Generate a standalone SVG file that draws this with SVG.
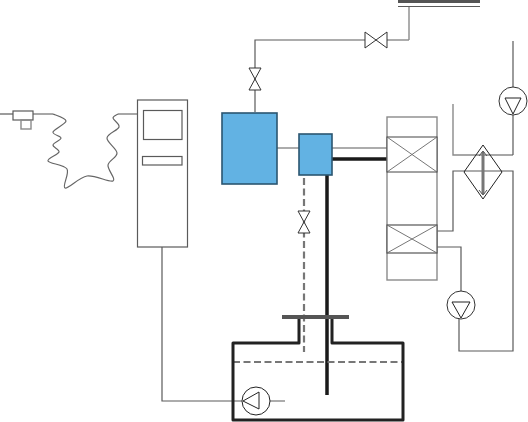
<svg xmlns="http://www.w3.org/2000/svg" width="528" height="422" viewBox="0 0 528 422">
<style>
.l{fill:none;stroke:#5a5a5a;stroke-width:1.2}
.g{fill:none;stroke:#8a8a8a;stroke-width:1.4}
.k{fill:none;stroke:#222;stroke-width:1}
.t{fill:none;stroke:#1a1a1a;stroke-width:3.500}
.d{fill:none;stroke:#777;stroke-width:2.200;stroke-dasharray:7 3.500}
.b{fill:#62b2e3;stroke:#2b5570;stroke-width:1.600}
.w{fill:#fff;stroke:#333;stroke-width:1}
.s{fill:none;stroke:#666;stroke-width:1.200}
</style>
<g id="connectors">
<path class="l" d="M255 112V40H365M387 40H409"/>
<path class="g" d="M409 40V6"/>
<path class="l" d="M277 148H299M332 148H387"/>
<path class="t" d="M332 159H387M327 175V395"/>
<path class="d" d="M304 178V352M233 362H403"/>
<path class="g" d="M453 104V155H513"/>
<path class="l" d="M513 155V115M513 87V41"/>
<path class="l" d="M437 231H453V171H513V351H459V319M461 291V247H437"/>
<path class="l" d="M162 247V401H242M270 401H285"/>
<path class="l" d="M0 114H13"/>
<path class="g" d="M33 114H53M118 114H137"/>
<path class="s" d="M53 114C55 115 66 118 66 121C66 124 53.800 129.200 53 132C52.200 134.800 61 135.800 61 138C61 140.200 53.300 142.700 53 145C52.700 147.300 59.800 149.300 59 152C58.200 154.700 46.700 158.200 48 161C49.300 163.800 64.200 164.500 67 169C69.800 173.500 61.700 186.800 65 188C68.300 189.200 79 177.200 87 176C95 174.800 109.500 182.800 113 181C116.500 179.200 107.300 169.700 108 165C108.700 160.300 117.200 157.500 117 153C116.800 148.500 106.700 142.300 107 138C107.300 133.700 118 130.300 119 127C120 123.700 113.200 120.200 113 118C112.800 115.800 117.200 114.700 118 114"/>
</g>
<g id="supply-header">
<path d="M398 1.500H480" fill="none" stroke="#555" stroke-width="3"/>
<path class="l" d="M398 6.500H480"/>
</g>
<g id="valve-top"><path class="w" d="M365 32V48L376 40ZM387 32V48L376 40Z"/></g>
<g id="valve-left"><path class="w" d="M249 68H261L255 79ZM249 90H261L255 79Z"/></g>
<g id="valve-dashed"><path class="w" d="M298 211H310L304 222ZM298 233H310L304 222Z"/></g>
<g id="tank-large"><rect class="b" x="222" y="113" width="55" height="71"/></g>
<g id="tank-small"><rect class="b" x="299" y="134" width="33" height="41"/></g>
<g id="column">
<rect class="g" x="387" y="117" width="50" height="163"/>
<rect x="387" y="137" width="50" height="35" fill="#fff" stroke="#444" stroke-width="1"/>
<path d="M387 137L437 172M437 137L387 172" fill="none" stroke="#666" stroke-width="0.900"/>
<rect x="387" y="225" width="50" height="28" fill="#fff" stroke="#555" stroke-width="1.200"/>
<path d="M387 225L437 253M437 225L387 253" fill="none" stroke="#666" stroke-width="0.900"/>
</g>
<g id="heat-exchanger">
<path class="k" d="M483 145L502 172L483 199L464 172Z"/>
<path d="M483 152V194" fill="none" stroke="#777" stroke-width="3"/>
<path d="M479 156L483 151L487 156M479 190L483 195L487 190" fill="none" stroke="#555" stroke-width="1"/>
</g>
<g id="pump-top"><circle class="w" cx="513" cy="101" r="14"/><path class="k" d="M505 98H521L513 114Z"/></g>
<g id="pump-mid"><circle class="w" cx="461" cy="305" r="14"/><path class="k" d="M452 302H470L461 318Z"/></g>
<g id="pump-tank"><circle class="k" cx="256" cy="401" r="14"/><path class="k" d="M259 392V409L243 401Z"/></g>
<g id="vessel">
<path d="M299 318V343H233V420H403V343H332V318" fill="none" stroke="#222" stroke-width="3" stroke-linejoin="round"/>
<path d="M282 317H349" fill="none" stroke="#555" stroke-width="4"/>
</g>
<g id="controller">
<rect class="l" x="137.500" y="100" width="50" height="147" stroke-width="1.300"/>
<rect class="l" x="143.500" y="110.500" width="38.500" height="29" stroke-width="1.300"/>
<rect class="l" x="142.500" y="156.500" width="39.500" height="8.500" stroke-width="1.300"/>
</g>
<g id="sensor">
<rect class="l" x="13" y="111" width="20" height="9"/>
<rect class="g" x="21" y="120" width="10" height="9"/>
</g>
</svg>
